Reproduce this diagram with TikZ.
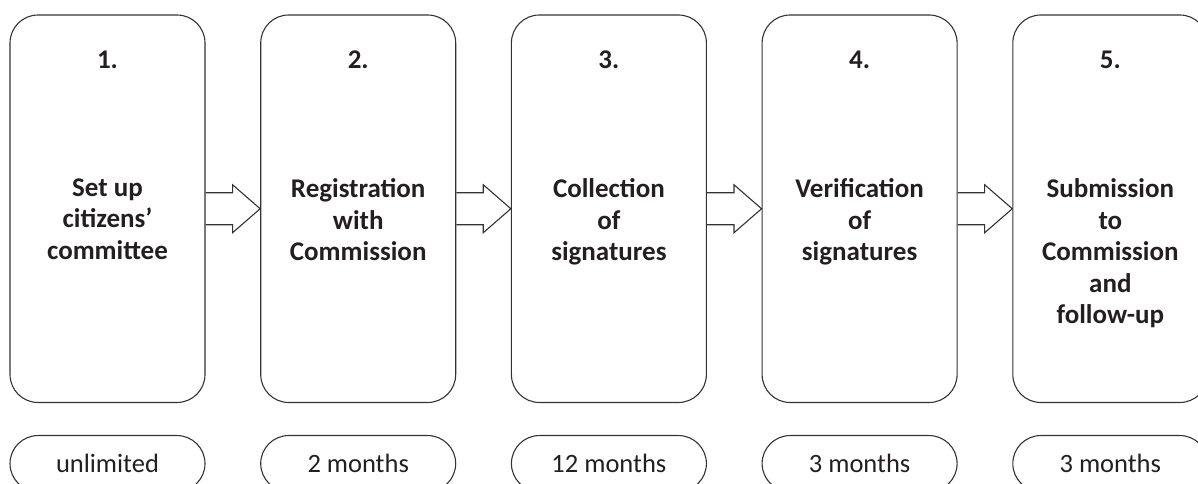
\documentclass[tikz,border=0pt]{standalone}
\usepackage{fontspec}
\setmainfont{Carlito}
\usetikzlibrary{calc}
\definecolor{edge}{HTML}{333333}
\definecolor{ink}{HTML}{231F20}

\begin{document}
\begin{tikzpicture}[x=1pt, y=1pt,
        stage/.style={draw=edge, line width=1.1pt, rounded corners=28pt,
            minimum width=195pt, minimum height=387.5pt, inner sep=0pt},
        period/.style={draw=edge, line width=1.1pt, rounded corners=28pt,
            minimum width=195pt, minimum height=56pt, inner sep=0pt,
            font=\fontsize{26.5}{30}\selectfont, text=ink},
        num/.style={font=\bfseries\fontsize{27}{30}\selectfont, text=ink, inner sep=0pt},
        what/.style={font=\bfseries\fontsize{27}{31.5}\selectfont, text=ink,
            align=center, inner sep=0pt},
        bigarrow/.style={draw=edge, line width=1.1pt, line join=miter}]
    \useasboundingbox (0, 0) rectangle (1198, 484);
    \clip (0, 0) rectangle (1198, 484);

    % the five stages
    \node[stage] (b1) at (107.5, 275.25) {};
    \node[stage] (b2) at (358.2, 275.25) {};
    \node[stage] (b3) at (608.9, 275.25) {};
    \node[stage] (b4) at (859.6, 275.25) {};
    \node[stage] (b5) at (1110.3, 275.25) {};

    \node[num, anchor=base] (n1) at ($(b1.north)+(0, -54.3)$) {1.};
    \node[num, anchor=base] (n2) at ($(b2.north)+(0, -54.3)$) {2.};
    \node[num, anchor=base] (n3) at ($(b3.north)+(0, -54.3)$) {3.};
    \node[num, anchor=base] (n4) at ($(b4.north)+(0, -54.3)$) {4.};
    \node[num, anchor=base] (n5) at ($(b5.north)+(0, -54.3)$) {5.};

    \node[what, anchor=north] (t1) at ($(b1.north)+(0, -164)$) {Set up\\citizens’\\committee};
    \node[what, anchor=north] (t2) at ($(b2.north)+(0, -164)$) {Registration\\with\\Commission};
    \node[what, anchor=north] (t3) at ($(b3.north)+(0, -164)$) {Collection\\of\\signatures};
    \node[what, anchor=north] (t4) at ($(b4.north)+(0, -164)$) {Verification\\of\\signatures};
    \node[what, anchor=north] (t5) at ($(b5.north)+(0, -164)$) {Submission\\to\\Commission\\and\\follow-up};

    % arrows between stages
    \draw[bigarrow] ($(b1.east)+(0, 16)$) -- ($(b1.east)+(27, 16)$) -- ($(b1.east)+(27, 24)$)
        -- (b2.west) -- ($(b1.east)+(27, -24)$) -- ($(b1.east)+(27, -16)$) -- ($(b1.east)+(0, -16)$);
    \draw[bigarrow] ($(b2.east)+(0, 16)$) -- ($(b2.east)+(27, 16)$) -- ($(b2.east)+(27, 24)$)
        -- (b3.west) -- ($(b2.east)+(27, -24)$) -- ($(b2.east)+(27, -16)$) -- ($(b2.east)+(0, -16)$);
    \draw[bigarrow] ($(b3.east)+(0, 16)$) -- ($(b3.east)+(27, 16)$) -- ($(b3.east)+(27, 24)$)
        -- (b4.west) -- ($(b3.east)+(27, -24)$) -- ($(b3.east)+(27, -16)$) -- ($(b3.east)+(0, -16)$);
    \draw[bigarrow] ($(b4.east)+(0, 16)$) -- ($(b4.east)+(27, 16)$) -- ($(b4.east)+(27, 24)$)
        -- (b5.west) -- ($(b4.east)+(27, -24)$) -- ($(b4.east)+(27, -16)$) -- ($(b4.east)+(0, -16)$);

    % durations
    \node[period, anchor=north] (d1) at (107.5, 49) {unlimited};
    \node[period, anchor=north] (d2) at (358.2, 49) {2 months};
    \node[period, anchor=north] (d3) at (608.9, 49) {12 months};
    \node[period, anchor=north] (d4) at (859.6, 49) {3 months};
    \node[period, anchor=north] (d5) at (1110.3, 49) {3 months};

\end{tikzpicture}
\end{document}
